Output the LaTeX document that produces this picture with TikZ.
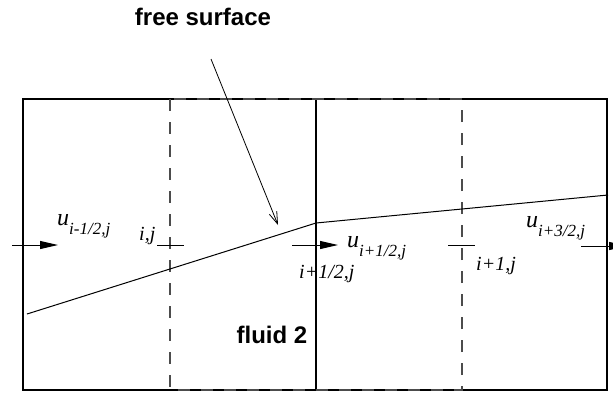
\documentclass[tikz,border=0pt]{standalone}
\usepackage{fontspec}
\setmainfont{Liberation Serif}
\setsansfont{Liberation Sans}
\usetikzlibrary{arrows.meta}
\newcommand{\uvel}[1]{{\fontsize{24}{24}\selectfont\itshape u}{\fontsize{17}{17}\selectfont\itshape\raisebox{-9pt}{#1}}}

\begin{document}
\begin{tikzpicture}[x=1pt, y=-1pt,
  wall/.style={line width=1.4pt},
  cellline/.style={line width=1.8pt, dash pattern=on 12pt off 11pt, black!70},
  vel/.style={line width=1pt, -{Triangle[length=18pt, width=8pt]}},
  idx/.style={font=\fontsize{20}{20}\selectfont\itshape, inner sep=0pt, anchor=base west},
  ulab/.style={inner sep=0pt, anchor=base west},
  caption/.style={font=\fontsize{24}{24}\selectfont\sffamily\bfseries, inner sep=0pt}]
  \clip (0,0) rectangle (613,392);
  % Cells
  \draw[wall] (23,99) rectangle (607,390);
  \draw[wall] (316,99) -- (316,390);
  \draw[cellline] (170,99) rectangle (462,390);
  % Free surface
  \coordinate (s1) at (27,314);
  \coordinate (s2) at (316,223);
  \coordinate (s3) at (608,195);
  \draw[line width=1pt] (s1) -- (s2) -- (s3);
  % Cell centres
  \coordinate (cij) at (170,245);
  \coordinate (cip) at (462,245);
  \draw[line width=1pt] ([xshift=-13pt]cij) -- ([xshift=14pt]cij);
  \draw[line width=1pt] ([xshift=-14pt]cip) -- ([xshift=13pt]cip);
  \node[idx] (lij) at (139,240) {i,j};
  \node[idx] (lih) at (299,278) {i+1/2,j};
  \node[idx] (lip) at (476,270) {i+1,j};
  % Velocities
  \coordinate (v1a) at (12,245);  \coordinate (v1b) at (58,245);
  \coordinate (v2a) at (292,245); \coordinate (v2b) at (338,245);
  \coordinate (v3a) at (581,246); \coordinate (v3b) at (627,246);
  \draw[vel] (v1a) -- (v1b);
  \draw[vel] (v2a) -- (v2b);
  \draw[vel] (v3a) -- (v3b);
  \node[ulab] (u1) at (57,225) {\uvel{i-1/2,j}};
  \node[ulab] (u2) at (347,247) {\uvel{i+1/2,j}};
  \node[ulab] (u3) at (526,227) {\uvel{i+3/2,j}};
  % Labels
  \node[caption] (fs) at (203,17) {free surface};
  \node[caption] (fl) at (272,335) {fluid 2};
  \coordinate (fsa) at (211,59);
  \coordinate (fsb) at (278,225);
  \draw[line width=0.8pt, -{Straight Barb[length=12pt, width=8pt]}] (fsa) -- (fsb);
\end{tikzpicture}
\end{document}
